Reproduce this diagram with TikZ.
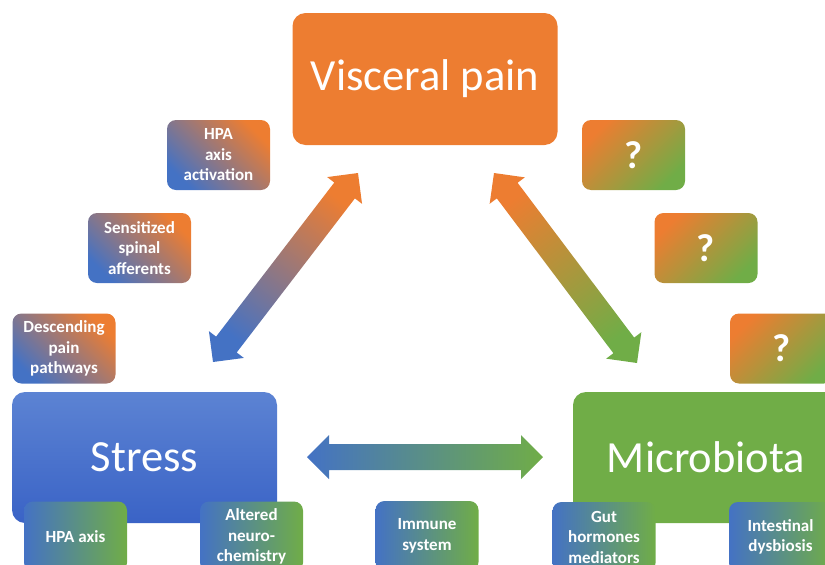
\documentclass[tikz,border=0pt]{standalone}
\usepackage{fontspec}
\setmainfont{Carlito}
\usetikzlibrary{positioning,calc}
\definecolor{vporange}{HTML}{ED7D31}
\definecolor{vpblue}{HTML}{4472C4}
\definecolor{vpgreen}{HTML}{70AD47}
\definecolor{stresstop}{HTML}{5C83D3}
\definecolor{stressbot}{HTML}{3A63C6}
\tikzstyle{big}=[rectangle,rounded corners=13pt,minimum width=265pt,minimum height=132pt,text=white,font=\fontsize{44.5}{52}\selectfont]
\tikzstyle{small}=[rectangle,rounded corners=9pt,minimum width=103pt,minimum height=70pt,text=white,align=center,font=\fontsize{17}{20.5}\selectfont\bfseries]
\tikzstyle{pathway}=[small,top color=vporange,bottom color=vpblue,shading angle=-45]
\tikzstyle{unknown}=[small,top color=vporange,bottom color=vpgreen,shading angle=45,font=\fontsize{39}{44}\selectfont\bfseries]
\tikzstyle{mediator}=[small,left color=vpblue,right color=vpgreen]
% broad double arrow from #1 to #2, colour #3 at #1 and #4 at #2
\newcommand{\fatarrow}[4]{%
  \path let \p1=(#1), \p2=(#2) in
    \pgfextra{%
      \pgfmathparse{atan2(\y2-\y1,\x2-\x1)}\xdef\arrang{\pgfmathresult}%
      \pgfmathparse{veclen(\x2-\x1,\y2-\y1)}\xdef\arrlen{\pgfmathresult}%
      \pgfmathparse{\arrang-90}\xdef\arrshade{\pgfmathresult}};
  \shade[top color=#4,bottom color=#3,shading angle=\arrshade,shift={(#1)},rotate=\arrang]
    (0,0) -- (22,22) -- (22,13) -- (\arrlen-22,13) -- (\arrlen-22,22) -- (\arrlen,0)
    -- (\arrlen-22,-22) -- (\arrlen-22,-13) -- (22,-13) -- (22,-22) -- cycle;
}

\begin{document}
\begin{tikzpicture}[x=1pt,y=1pt]
\useasboundingbox (0,0) rectangle (825,-565);
\clip (0,0) rectangle (825,-565);
% main boxes
\node[big,fill=vporange] (visceral) at (425,-79) {Visceral pain};
\node[big,top color=stresstop,bottom color=stressbot,minimum height=131pt] (stress) at (144.5,-457.5) {Stress};
\node[big,fill=vpgreen,minimum width=266pt,minimum height=131pt] (microbiota) at (706,-457.5) {Microbiota};
% stress side
\node[pathway] (hpaact) at (218.5,-155) {HPA\\axis\\activation};
\node[pathway] (spinal) at (139.5,-248) {Sensitized\\spinal\\afferents};
\node[pathway] (descending) at (64,-348.5) {Descending\\pain\\pathways};
% microbiota side
\node[unknown] (q1) at (633.5,-155) {?};
\node[unknown] (q2) at (706,-248) {?};
\node[unknown] (q3) at (781.5,-348.5) {?};
% bottom row
\node[mediator] (hpa) at (75.5,-536.5) {HPA axis};
\node[mediator] (neurochem) at (251.5,-536.5) {Altered\\neuro-\\chemistry};
\node[mediator] (immune) at (427,-536) {Immune\\system};
\node[mediator] (gut) at (604,-537) {Gut\\hormones\\mediators};
\node[mediator] (dysbiosis) at (780.5,-537) {Intestinal\\dysbiosis};
% arrow ends
\coordinate (stresstip) at (213,-362);
\coordinate (visleft) at (358,-173);
\coordinate (visright) at (494,-173);
\coordinate (microtip) at (637,-363);
\coordinate (stressside) at (307,-457);
\coordinate (microside) at (543,-457);
\fatarrow{stresstip}{visleft}{vpblue}{vporange}
\fatarrow{microtip}{visright}{vpgreen}{vporange}
\fatarrow{stressside}{microside}{vpblue}{vpgreen}
\end{tikzpicture}
\end{document}
